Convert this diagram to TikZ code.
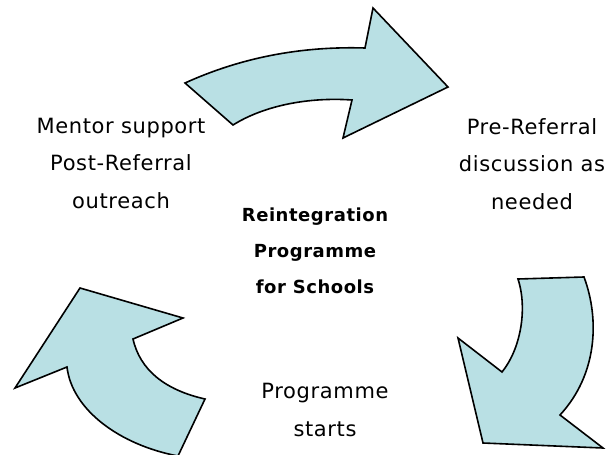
\documentclass[tikz,border=0pt]{standalone}
\usepackage{fontspec}
\setmainfont{DejaVu Sans}
\usetikzlibrary{positioning}

\definecolor{arrowblue}{RGB}{185,224,228}

\tikzset{
  cyclearrow/.style={draw=black, fill=arrowblue, line width=1.6pt, line join=miter},
  steptext/.style={align=center, font=\fontsize{21}{37.5}\selectfont\addfontfeatures{LetterSpace=3}},
  titletext/.style={align=center, font=\bfseries\fontsize{18}{36}\selectfont\addfontfeatures{LetterSpace=3}}
}

\begin{document}
\begin{tikzpicture}[x=1pt, y=-1pt]
        \useasboundingbox (0,0) rectangle (608,455);
        \clip (0,0) rectangle (608,455);

        %-----Arrows-----

        % Top Arrow
        \draw[cyclearrow] (185,83) .. controls (240,58) and (300,46) .. (365,48)
            -- (373,8) -- (448,87) -- (343,138) -- (352,100)
            .. controls (310,97) and (265,105) .. (233,125) -- cycle;

        % Right Arrow
        \draw[cyclearrow] (518,279) -- (584,277) .. controls (600,320) and (597,375) .. (560,415)
            -- (603,448) -- (483,443) -- (458,338) -- (502,372)
            .. controls (520,350) and (528,310) .. (518,279) -- cycle;

        % Left Arrow
        \draw[cyclearrow] (80,288) -- (183,318) -- (133,339)
            .. controls (140,370) and (165,390) .. (205,399) -- (178,456)
            .. controls (120,445) and (72,410) .. (67,367) -- (15,388) -- cycle;

        %-----Texts-----

        % Centre Title
        \node[titletext] (centre) at (315,251) {Reintegration\\Programme\\for Schools};

        % Mentor Step
        \node[steptext] (mentor) at (121,163) {Mentor support\\Post-Referral\\outreach};

        % Pre-Referral Step
        \node[steptext] (prereferral) at (532,164) {Pre-Referral\\discussion as\\needed};

        % Programme Step
        \node[steptext] (starts) at (325,410) {Programme\\starts};

    \end{tikzpicture}
\end{document}
